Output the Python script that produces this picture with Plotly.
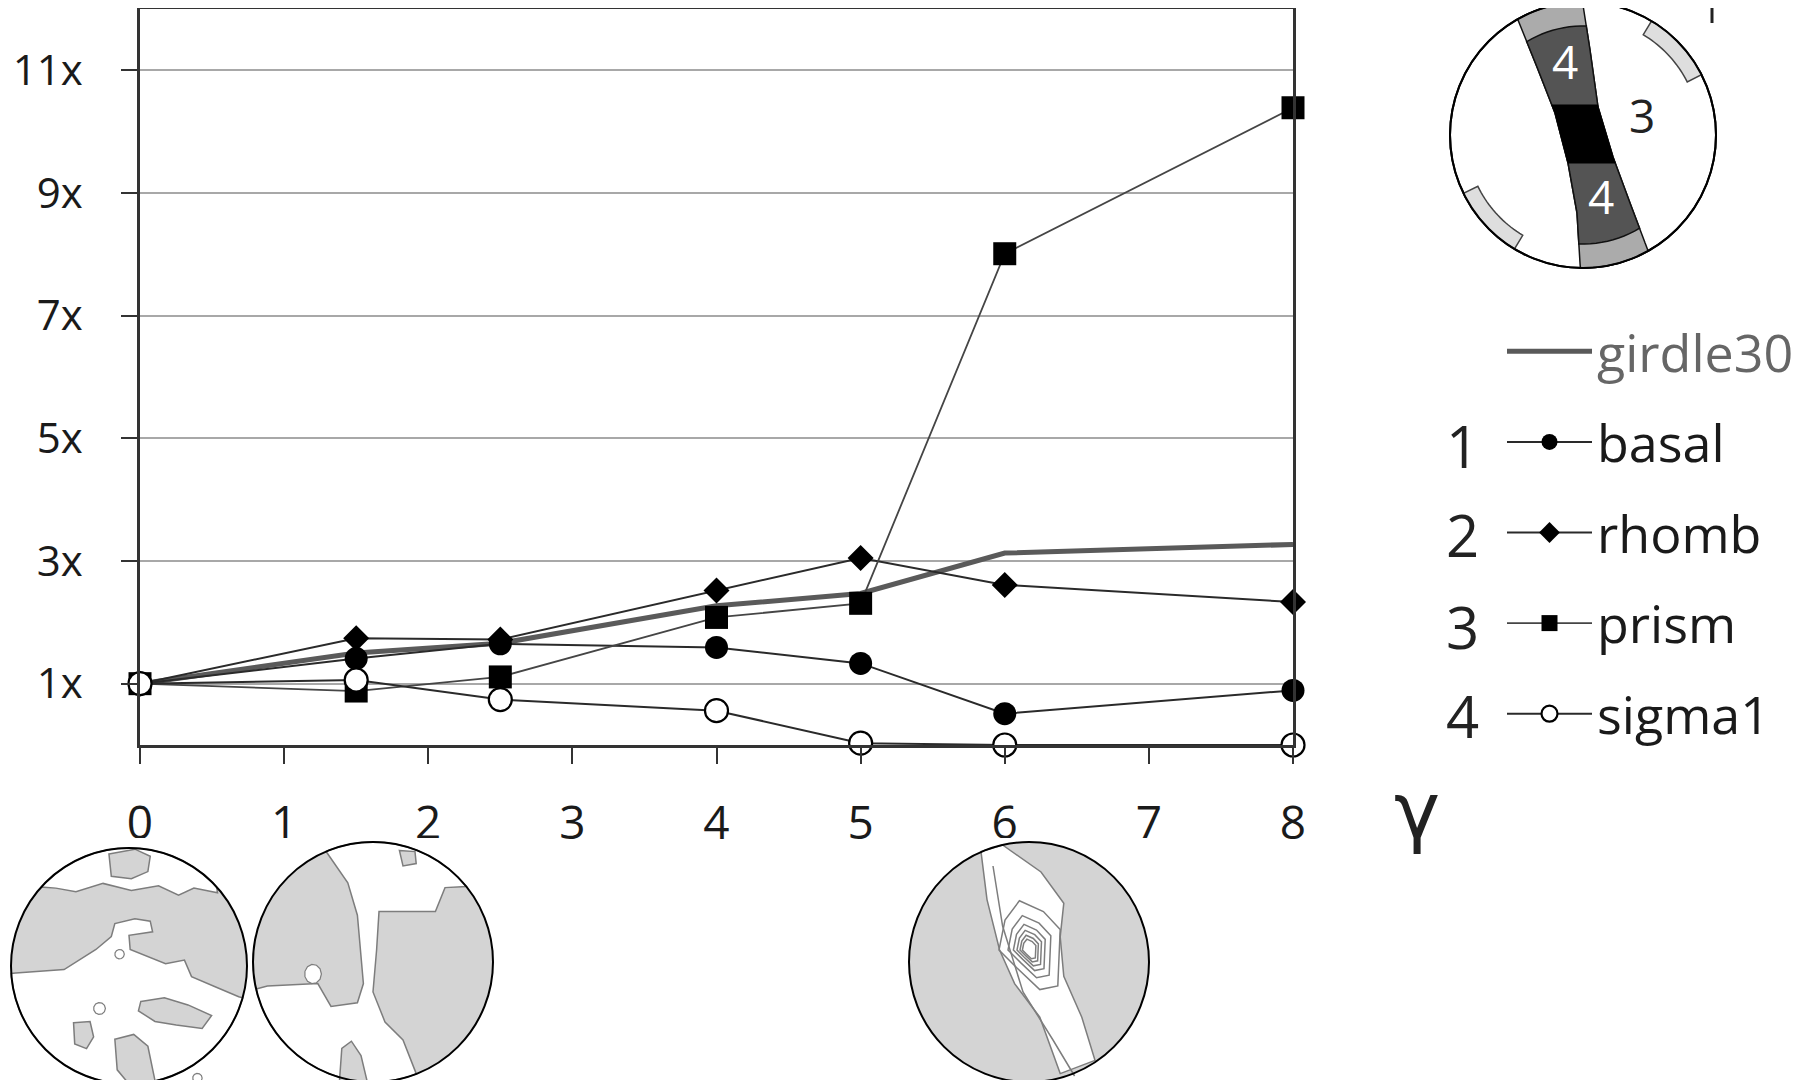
import numpy as np
import plotly.graph_objects as go

# ---------------- data ----------------
x_gamma = [0, 1.5, 2.5, 4, 5, 6, 8]
girdle30 = [1.0, 1.50, 1.66, 2.27, 2.47, 3.13, 3.27]
basal = [1.0, 1.41, 1.65, 1.59, 1.33, 0.51, 0.89]
rhomb = [1.0, 1.74, 1.72, 2.52, 3.05, 2.61, 2.33]
prism = [1.0, 0.88, 1.11, 2.08, 2.31, 8.01, 10.39]
sigma1 = [1.0, 1.06, 0.74, 0.56, 0.03, 0.0, 0.0]

x_tickvals = [0, 1, 2, 3, 4, 5, 6, 7, 8]
y_tickvals = [1, 3, 5, 7, 9, 11]
y_ticktext = [f"{v}x" for v in y_tickvals]
legend_numbers = ["1", "2", "3", "4"]

# page body has an 8px margin: figure sits at (8, 8) in the window
OFF = 8
WIN_W, WIN_H = 1807, 1088
W, H = WIN_W - 2 * OFF, WIN_H - 2 * OFF
# plot area in window pixels
PL, PR, PT, PB = 140, 1293, 9, 745
FONT = "Open Sans, Noto Sans, DejaVu Sans, sans-serif"
INK = "#1a1a1a"


def px(fx, fy):
    return (fx - PL) / (PR - PL), (PB - fy) / (PB - PT)


def path_from(points, close=True):
    s = ""
    for i, (fx, fy) in enumerate(points):
        x, y = px(fx, fy)
        s += ("M" if i == 0 else "L") + f"{x:.5f},{y:.5f} "
    if close:
        s += "Z"
    return s


def arc(cx, cy, r, a0, a1, n=40):
    a = np.radians(np.linspace(a0, a1, n))
    return [(cx + r * np.cos(t), cy - r * np.sin(t)) for t in a]


def local(cx, cy, r, pts):
    return [(cx + u * r, cy - v * r) for u, v in pts]


def local_arc(a0, a1, n=40):
    a = np.radians(np.linspace(a0, a1, n))
    return [(np.cos(t), np.sin(t)) for t in a]


shapes = []


def add_path(points, fill=None, line="#000", lw=1.5, close=True):
    shapes.append(dict(type="path", xref="paper", yref="paper", layer="above",
                       path=path_from(points, close),
                       fillcolor=fill if fill else "rgba(0,0,0,0)",
                       line=dict(color=line, width=lw)))


def add_circle(cx, cy, r, fill=None, line="#000", lw=2):
    x0, y0 = px(cx - r, cy + r)
    x1, y1 = px(cx + r, cy - r)
    shapes.append(dict(type="circle", xref="paper", yref="paper", layer="above",
                       x0=x0, y0=y0, x1=x1, y1=y1,
                       fillcolor=fill if fill else "rgba(0,0,0,0)",
                       line=dict(color=line, width=lw)))


def add_rect(fx0, fy0, fx1, fy1, fill="white"):
    x0, y0 = px(fx0, fy1)
    x1, y1 = px(fx1, fy0)
    shapes.append(dict(type="rect", xref="paper", yref="paper", layer="above",
                       x0=x0, y0=y0, x1=x1, y1=y1, fillcolor=fill,
                       line=dict(width=0)))


# ---------------- figure ----------------
fig = go.Figure()

fig.add_trace(go.Scatter(x=x_gamma, y=girdle30, name="<span style='color:#666'>girdle30</span>",
                         mode="lines", line=dict(color="#5a5a5a", width=5),
                         legendgroup="g0", cliponaxis=False))
fig.add_trace(go.Scatter(x=x_gamma, y=basal, name="basal", mode="lines+markers",
                         line=dict(color="#2a2a2a", width=2),
                         marker=dict(symbol="circle", size=23, color="#000"),
                         legendgroup="g1", cliponaxis=False))
fig.add_trace(go.Scatter(x=x_gamma, y=rhomb, name="rhomb", mode="lines+markers",
                         line=dict(color="#2a2a2a", width=2),
                         marker=dict(symbol="diamond", size=20, color="#000"),
                         legendgroup="g2", cliponaxis=False))
fig.add_trace(go.Scatter(x=x_gamma, y=prism, name="prism", mode="lines+markers",
                         line=dict(color="#454545", width=1.8),
                         marker=dict(symbol="square", size=23, color="#000"),
                         legendgroup="g3", cliponaxis=False))
fig.add_trace(go.Scatter(x=x_gamma, y=sigma1, name="sigma1", mode="lines+markers",
                         line=dict(color="#2a2a2a", width=2),
                         marker=dict(symbol="circle", size=23, color="#fff",
                                     line=dict(color="#000", width=2.2)),
                         legendgroup="g4", cliponaxis=False))

# ---------------- top-right diagram ----------------
cx, cy, R = 1583, 135, 133
L_pts = [(1506, -10), (1518, 20), (1537, 67), (1555, 113), (1568, 163), (1577, 213), (1580, 263), (1582, 290)]
R_pts = [(1581, -10), (1583, 5), (1590, 50), (1598, 107), (1613, 157), (1630, 203), (1647, 248), (1663, 290)]
Ly = [p[1] for p in L_pts]; Lx = [p[0] for p in L_pts]
Ry = [p[1] for p in R_pts]; Rx = [p[0] for p in R_pts]
ys = np.linspace(-10, 290, 601)
xl = np.interp(ys, Ly, Lx)
xr = np.interp(ys, Ry, Rx)


def band(rmax, ylo=None, yhi=None):
    inl = np.hypot(xl - cx, ys - cy) <= rmax
    inr = np.hypot(xr - cx, ys - cy) <= rmax
    if ylo is not None:
        inl &= (ys >= ylo) & (ys <= yhi)
        inr &= (ys >= ylo) & (ys <= yhi)
    left = list(zip(xl[inl], ys[inl]))
    right = list(zip(xr[inr], ys[inr]))[::-1]
    if ylo is None:
        bl, br = left[-1], right[0]
        a_bl = np.degrees(np.arctan2(cy - bl[1], bl[0] - cx))
        a_br = np.degrees(np.arctan2(cy - br[1], br[0] - cx))
        tl, tr = left[0], right[-1]
        a_tl = np.degrees(np.arctan2(cy - tl[1], tl[0] - cx))
        a_tr = np.degrees(np.arctan2(cy - tr[1], tr[0] - cx))
        return left + arc(cx, cy, rmax, a_bl, a_br, 12) + right + arc(cx, cy, rmax, a_tr, a_tl, 12)
    return left + right


add_circle(cx, cy, R, fill="#fff", line="#000", lw=2)
add_path(band(R), fill="#ababab", line="#111", lw=1.5)
add_path(band(R - 24), fill="#545454", line="#111", lw=1.5)
add_path(band(R, 105, 163), fill="#000", line="#000", lw=1)
add_path(arc(cx, cy, R, 27, 59, 20) + arc(cx, cy, R - 16, 59, 27, 20), fill="#dedede", line="#444", lw=1.5)
add_path(arc(cx, cy, R, 206, 239, 20) + arc(cx, cy, R - 16, 239, 206, 20), fill="#dedede", line="#444", lw=1.5)
add_circle(cx, cy, R, fill=None, line="#000", lw=2)
# fragment of a label cut by the top edge
add_path([(1712, 0), (1712, 23)], line="#222", lw=3, close=False)

# ---------------- bottom pole figures ----------------
add_rect(0, 838, 470, WIN_H)
add_rect(905, 838, 1160, WIN_H)

GRAY = "#d4d4d4"
CL = "#7d7d7d"

# circle A (gamma 0)
ax_, ay_, ar_ = 129, 966, 118
add_circle(ax_, ay_, ar_, fill=GRAY, line="#000", lw=0)
wa = [(-0.96, -0.06), (-0.55, -0.03), (-0.28, 0.14), (-0.15, 0.25), (-0.12, 0.36), (0.05, 0.40),
      (0.18, 0.38), (0.2, 0.29), (0.0, 0.26), (0.01, 0.14), (0.31, 0.02), (0.47, 0.05),
      (0.53, -0.09), (0.74, -0.18), (0.93, -0.26)] + local_arc(-15.6, -176.4)
add_path(local(ax_, ay_, ar_, wa), fill="#fff", line=CL, lw=1.5)
cap = local_arc(138, 42) + [(0.75, 0.62), (0.55, 0.66), (0.42, 0.6), (0.25, 0.68), (0.02, 0.64),
                            (-0.22, 0.7), (-0.45, 0.63), (-0.62, 0.66)]
add_path(local(ax_, ay_, ar_, cap), fill="#fff", line=CL, lw=1.5)
blob_top = [(-0.17, 0.95), (0.05, 0.99), (0.18, 0.93), (0.16, 0.80), (0.02, 0.74), (-0.15, 0.76)]
add_path(local(ax_, ay_, ar_, blob_top), fill=GRAY, line=CL, lw=1.5)
blob_r = [(0.1, -0.3), (0.3, -0.27), (0.5, -0.33), (0.7, -0.42), (0.62, -0.53), (0.4, -0.5),
          (0.22, -0.47), (0.08, -0.38)]
add_path(local(ax_, ay_, ar_, blob_r), fill=GRAY, line=CL, lw=1.5)
blob_s = [(-0.47, -0.48), (-0.33, -0.47), (-0.3, -0.6), (-0.36, -0.7), (-0.46, -0.66)]
add_path(local(ax_, ay_, ar_, blob_s), fill=GRAY, line=CL, lw=1.5)
blob_b = [(-0.12, -0.62), (0.04, -0.58), (0.16, -0.68), (0.22, -0.97), (0.0, -1.0), (-0.1, -0.88)]
add_path(local(ax_, ay_, ar_, blob_b), fill=GRAY, line=CL, lw=1.5)
for (u, v, s) in [(-0.25, -0.36, 0.05), (-0.08, 0.1, 0.04), (0.58, -0.95, 0.04)]:
    add_path(local(ax_, ay_, ar_, [(u + s * np.cos(t), v + s * np.sin(t)) for t in np.linspace(0, 2 * np.pi, 12)]),
             fill="#fff", line=CL, lw=1.2)
add_circle(ax_, ay_, ar_, fill=None, line="#000", lw=2)

# circle B (gamma 1.5)
bx_, by_, br_ = 373, 962, 120
add_circle(bx_, by_, br_, fill=GRAY, line="#000", lw=0)
wb = local_arc(113, 39, 30) + [(0.6, 0.62), (0.52, 0.42), (0.2, 0.42), (0.05, 0.42), (0.03, 0.1),
                               (0.0, -0.25), (0.1, -0.5), (0.25, -0.65), (0.36, -0.93)] \
    + local_arc(-69, -167, 30) + [(-0.88, -0.2), (-0.46, -0.18), (-0.35, -0.37), (-0.13, -0.34),
                                  (-0.08, -0.18), (-0.13, 0.39), (-0.21, 0.66)]
add_path(local(bx_, by_, br_, wb), fill="#fff", line=CL, lw=1.5)
blob_bt = [(0.22, 0.93), (0.35, 0.92), (0.36, 0.82), (0.25, 0.8)]
add_path(local(bx_, by_, br_, blob_bt), fill=GRAY, line=CL, lw=1.5)
blob_bb = [(-0.28, -1.0), (-0.26, -0.72), (-0.18, -0.66), (-0.1, -0.78), (-0.05, -0.99)]
add_path(local(bx_, by_, br_, blob_bb), fill=GRAY, line=CL, lw=1.5)
add_path(local(bx_, by_, br_, [(-0.5 + 0.07 * np.cos(t), -0.1 + 0.08 * np.sin(t)) for t in np.linspace(0, 2 * np.pi, 12)]),
         fill="#fff", line=CL, lw=1.2)
add_circle(bx_, by_, br_, fill=None, line="#000", lw=2)

# circle C (gamma 6)
ccx, ccy, ccr = 1029, 962, 120
add_circle(ccx, ccy, ccr, fill=GRAY, line="#000", lw=0)
wc = [(-0.40, 0.92), (-0.35, 0.52), (-0.245, 0.1), (-0.12, -0.18), (0.09, -0.46), (0.26, -0.93),
      (0.55, -0.82), (0.44, -0.46), (0.29, -0.12), (0.26, 0.21), (0.29, 0.49), (0.1, 0.75), (-0.22, 0.975)]
add_path(local(ccx, ccy, ccr, wc), fill="#fff", line=CL, lw=1.5)
add_path(local(ccx, ccy, ccr, [(-0.3, 0.8), (-0.22, 0.3), (-0.05, -0.25), (0.2, -0.65), (0.38, -0.95)]),
         line=CL, lw=1.5, close=False)
loop = [(-0.08, 0.51), (0.12, 0.42), (0.26, 0.27), (0.24, -0.2), (0.09, -0.23), (-0.1, -0.05), (-0.25, 0.1), (-0.2, 0.35)]
c0 = (0.0, 0.1)
for s in [1.0, 0.7, 0.52, 0.4, 0.3, 0.22]:
    add_path(local(ccx, ccy, ccr, [(c0[0] + s * (u - c0[0]), c0[1] + s * (v - c0[1])) for u, v in loop]),
             line=CL, lw=1.5)
add_circle(ccx, ccy, ccr, fill=None, line="#000", lw=2)

# ---------------- annotations ----------------
ann = []


def add_text(text, fx, fy, size, color=INK, family=FONT, xanchor="center"):
    x, y = px(fx, fy)
    ann.append(dict(text=text, x=x, y=y, xref="paper", yref="paper", showarrow=False,
                    xanchor=xanchor, yanchor="middle", font=dict(size=size, color=color, family=family)))


add_text("4", 1565, 61, 46, color="#fff")
add_text("4", 1601, 196, 46, color="#fff")
add_text("3", 1642, 115, 46, color="#222")
add_text("γ", 1417, 811, 78, color="#222", family="DejaVu Sans, sans-serif")
for num, fy in zip(legend_numbers, [445, 534, 626, 715]):
    add_text(num, 1462, fy, 58, color="#222")

fig.update_layout(
    width=W, height=H,
    margin=dict(l=PL - OFF, r=(W + OFF) - PR, t=PT - OFF, b=(H + OFF) - PB, pad=0, autoexpand=False),
    paper_bgcolor="#fff", plot_bgcolor="#fff",
    font=dict(family=FONT, color=INK),
    showlegend=True,
    legend=dict(x=px(1502, 0)[0], y=px(0, 311)[1], xanchor="left", yanchor="top",
                font=dict(size=52, color=INK, family=FONT),
                traceorder="grouped", tracegroupgap=20, itemwidth=85,
                bgcolor="rgba(0,0,0,0)", borderwidth=0, itemclick=False),
    shapes=shapes,
    annotations=ann,
    xaxis=dict(range=[0, 8], tickvals=x_tickvals, ticks="outside", ticklen=16, tickwidth=2,
               tickcolor="#333", showline=True, linecolor="#333", linewidth=2.5, mirror=True,
               showgrid=False, zeroline=False, ticklabelstandoff=20, automargin=False,
               tickfont=dict(size=46, family=FONT, color=INK)),
    yaxis=dict(range=[0, 12], tickvals=y_tickvals, ticktext=y_ticktext, ticks="outside", ticklen=16,
               tickwidth=2, tickcolor="#333", showline=True, linecolor="#333", linewidth=2.5, mirror=True,
               showgrid=True, gridcolor="#a8a8a8", gridwidth=1.8, zeroline=False, automargin=False,
               ticklabelstandoff=30, tickfont=dict(size=42, family=FONT, color=INK)),
)

fig.write_html("out.html")
